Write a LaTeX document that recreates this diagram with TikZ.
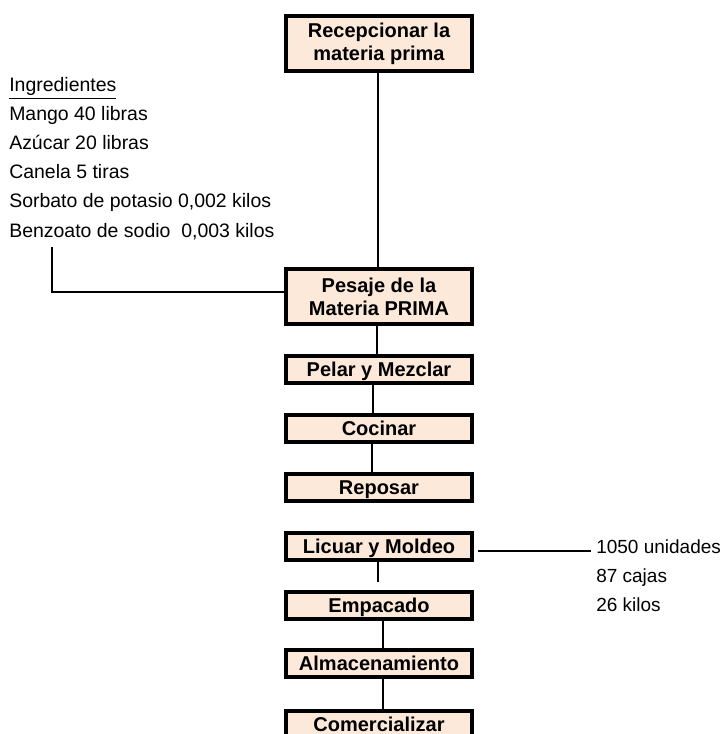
\documentclass[tikz,border=0pt]{standalone}
\usepackage{fontspec}
\setmainfont{Liberation Sans}
\usetikzlibrary{calc}

\definecolor{stepfill}{RGB}{253,233,217}

\begin{document}
\begin{tikzpicture}[x=0.75pt,y=-0.75pt,
  stepbox/.style={draw=black, line width=3pt, fill=stepfill, inner sep=0pt,
    minimum width=139.5pt, align=center,
    font=\bfseries\fontsize{15}{17.25}\selectfont},
  stepbig/.style={stepbox, minimum height=41.25pt},
  stepsmall/.style={stepbox, minimum height=20.25pt, text height=10.5pt, text depth=0pt},
  link/.style={line width=1.5pt},
  note/.style={anchor=base west, inner sep=0pt, font=\fontsize{14.25}{17}\selectfont},
  ingnote/.style={note, font=\fontsize{14.6}{17}\selectfont}]

\useasboundingbox (0,0) rectangle (722,734);
\clip (0,0) rectangle (722,734);

% process steps
\node[stepbig]   (rec) at (379,43.5)  {Recepcionar la\\materia prima};
\node[stepbig]   (pes) at (379,296.5) {Pesaje de la\\Materia PRIMA};
\node[stepsmall] (pel) at (379,369)   {Pelar y Mezclar};
\node[stepsmall] (coc) at (379,428.5) {Cocinar};
\node[stepsmall] (rep) at (379,487.5) {Reposar};
\node[stepsmall] (lic) at (379,546)   {Licuar y Moldeo};
\node[stepsmall] (emp) at (379,605)   {Empacado};
\node[stepsmall] (alm) at (379,663)   {Almacenamiento};
\node[stepsmall] (com) at (379,724)   {Comercializar};

% ingredient list
\node[ingnote] (ing0) at (9,92)  {\underline{Ingredientes}};
\node[ingnote] (ing1) at (9,121) {Mango 40 libras};
\node[ingnote] (ing2) at (9,150) {Azúcar 20 libras};
\node[ingnote] (ing3) at (9,179) {Canela 5 tiras};
\node[ingnote] (ing4) at (9,208) {Sorbato de potasio 0,002 kilos};
\node[ingnote] (ing5) at (9,237) {Benzoato de sodio~ 0,003 kilos};

% output quantities
\node[note] (out1) at (596,553) {1050 unidades};
\node[note] (out2) at (596,582) {87 cajas};
\node[note] (out3) at (596,611) {26 kilos};

% connectors
\draw[link] ($(rec.south)+(-1,0)$) -- ($(pes.north)+(-1,0)$);
\draw[link] ($(pes.south)+(-2,0)$) -- ($(pel.north)+(-2,0)$);
\draw[link] ($(pel.south)+(-6,0)$) -- ($(coc.north)+(-6,0)$);
\draw[link] ($(coc.south)+(-7,0)$) -- ($(rep.north)+(-7,0)$);
\coordinate (licend) at (378,582);
\draw[link] (lic.south -| licend) -- (licend);
\draw[link] ($(emp.south)+(4,0)$) -- ($(alm.north)+(4,0)$);
\draw[link] ($(alm.south)+(4,0)$) -- ($(com.north)+(4,0)$);

\coordinate (ingend) at (52,247);
\draw[link] (ingend) |- ($(pes.west)+(0,-4.5)$);

\coordinate (outend) at (591,551);
\draw[link] ($(lic.east)+(4,5)$) -- (outend);

\end{tikzpicture}
\end{document}
